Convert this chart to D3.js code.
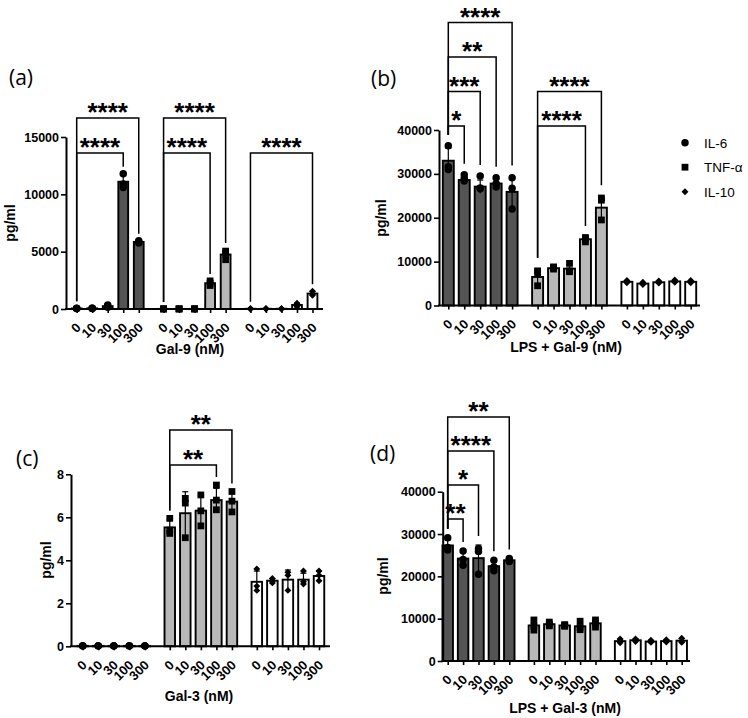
<!DOCTYPE html>
<html><head><meta charset="utf-8">
<script src="https://cdn.jsdelivr.net/npm/d3@7"></script>
<style>body{margin:0;background:#fff} svg{display:block}</style>
</head><body>
<svg id="chart" width="748" height="718"></svg>
<script>
// ---------- DATA ----------
const doses = ["0","10","30","100","300"];
const cytokines = ["IL-6","TNF-α","IL-10"];

// (a) Gal-9
const aTicks = [0,5000,10000,15000];
const aMean = [[50,60,250,11100,5850],[10,10,10,2250,4750],[20,20,20,350,1350]];
const aSD   = [[20,20,80,600,100],[0,0,0,200,400],[0,0,0,150,180]];
const aPts  = [
  [[60,40,50],[70,50,60],[350,250,150],[11800,10900,10600],[5950,5850,5750]],
  [[10,10,10],[10,10,10],[10,10,10],[2450,2250,2050],[5050,4850,4300]],
  [[20,20,20],[20,20,20],[20,20,20],[500,350,200],[1550,1300,1200]]
];
const aSig = [[0,3,"****",0],[0,4,"****",1],[1,3,"****",0],[1,4,"****",1],[2,4,"****",0]];

// (b) LPS + Gal-9
const bTicks = [0,10000,20000,30000,40000];
const bMean = [[33000,28600,27100,27800,25900],[6500,8500,8400,15100,22300],[5400,5000,5300,5500,5400]];
const bSD   = [[2800,700,1500,1100,3500],[1900,250,1000,500,2600],[250,200,200,200,200]];
const bPts  = [
  [[36400,31600,31000],[29800,29000,28400],[29500,26800,26600],[29100,27800,27000],[29100,26700,22000]],
  [[7900,7500,4500],[8800,8600,8300],[9600,7900,7700],[15500,15200,14500],[24500,24000,19500]],
  [[5700,5400,5200],[5300,5000,4800],[5600,5300,5100],[5800,5500,5300],[5700,5400,5200]]
];
const bSig = [[0,1,"*",0],[0,2,"***",1],[0,3,"**",2],[0,4,"****",3],[1,3,"****",0],[1,4,"****",1]];

// (c) Gal-3
const cTicks = [0,2,4,6,8];
const cMean = [[0.02,0.02,0.02,0.02,0.02],[5.53,6.19,6.31,6.8,6.73],[3.0,3.05,3.1,3.1,3.27]];
const cSD   = [[0,0,0,0,0],[0.35,1.0,0.72,0.55,0.45],[0.5,0.1,0.45,0.3,0.22]];
const cPts  = [
  [[0.02,0.02,0.02],[0.02,0.02,0.02],[0.02,0.02,0.02],[0.02,0.02,0.02],[0.02,0.02,0.02]],
  [[5.95,5.4,5.25],[6.88,6.66,5.05],[7.04,6.3,5.6],[7.5,6.8,6.35],[7.2,6.75,6.25]],
  [[3.6,2.8,2.6],[3.15,3.05,2.95],[3.45,3.3,2.6],[3.5,3.0,2.9],[3.5,3.3,3.05]]
];
const cSig = [[1,3,"**",0],[1,4,"**",1]];

// (d) LPS + Gal-3
const dTicks = [0,10000,20000,30000,40000];
const dMean = [[27300,24200,24300,22400,23800],[8400,8700,8400,8200,8900],[4700,4900,4600,4700,4800]];
const dSD   = [[1300,1700,3100,1250,350],[1200,450,200,1050,850],[450,300,250,250,500]];
const dPts  = [
  [[29100,26800,26200],[26000,24000,22600],[26600,25900,20500],[23800,22200,21300],[24200,23800,23500]],
  [[9700,8300,7300],[9200,8700,8300],[8600,8400,8200],[9400,7900,7400],[9700,9000,8000]],
  [[5200,4600,4300],[5200,4900,4600],[4900,4600,4400],[5000,4700,4500],[5400,4700,4400]]
];
const dSig = [[0,1,"**",0],[0,2,"*",1],[0,3,"****",2],[0,4,"**",3]];

// ---------- STYLE / LAYOUT ----------
const fills = ["#545454","#b8b8b8","#ffffff"];
const FONT = "'Liberation Sans', Arial, sans-serif";
const panels = [
  {letter:"(a)", lx:9, ly:85, xTitle:"Gal-9 (nM)", xtx:190, xty:354, ytx:15, yty:223,
   axisX:66, axisEnd:323, firstX:76.7, lastX:312.5, y0:309, yTop:137, yMax:15000,
   ticks:aTicks, mean:aMean, sd:aSD, pts:aPts, sig:aSig, br0:153, brStep:35, legOff:7, barW:9.8},
  {letter:"(b)", lx:371, ly:86, xTitle:"LPS + Gal-9 (nM)", xtx:566, xty:352, ytx:386, yty:218,
   axisX:439, axisEnd:700, firstX:448.3, lastX:690.7, y0:305.5, yTop:130, yMax:40000,
   ticks:bTicks, mean:bMean, sd:bSD, pts:bPts, sig:bSig, br0:126, brStep:34.5, legOff:11, barW:11, legend:true},
  {letter:"(c)", lx:16, ly:466, xTitle:"Gal-3 (nM)", xtx:199, xty:701, ytx:51, yty:560,
   axisX:71, axisEnd:330, firstX:82.7, lastX:319, y0:646.3, yTop:474.3, yMax:8,
   ticks:cTicks, mean:cMean, sd:cSD, pts:cPts, sig:cSig, br0:465, brStep:35, legOff:8, barW:10.5},
  {letter:"(d)", lx:370, ly:461, xTitle:"LPS + Gal-3 (nM)", xtx:565, xty:713, ytx:388, yty:576,
   axisX:442.7, axisEnd:690, firstX:447.7, lastX:681.7, y0:661, yTop:491.7, yMax:40000,
   ticks:dTicks, mean:dMean, sd:dSD, pts:dPts, sig:dSig, br0:519, brStep:34, legOff:9, barW:10.5}
];

const svg = d3.select("#chart");
const symbols = [
  d3.symbol().type(d3.symbolCircle).size(44),
  d3.symbol().type(d3.symbolSquare).size(46),
  d3.symbol().type(d3.symbolSquare).size(24)
];
const symRot = [0,0,45];

function drawPanel(p){
  const g = svg.append("g");
  const y = d3.scaleLinear().domain([0,p.yMax]).range([p.y0,p.yTop]);
  const slot = d3.scaleLinear().domain([0,15.2]).range([p.firstX,p.lastX]);
  const xPos = (gi,di) => slot(gi*5.6+di);

  const recs = [];
  p.mean.forEach((arr,gi)=>arr.forEach((m,di)=>recs.push({gi,di,m,sd:p.sd[gi][di],pts:p.pts[gi][di],x:xPos(gi,di)})));

  // bars
  g.selectAll("rect.bar").data(recs).join("rect")
    .attr("x",d=>d.x-p.barW/2).attr("width",p.barW)
    .attr("y",d=>y(d.m)).attr("height",d=>Math.max(0,y(0)-y(d.m)))
    .attr("fill",d=>fills[d.gi]).attr("stroke","#000").attr("stroke-width",1.9);

  // error bars
  const eb = g.selectAll("g.eb").data(recs.filter(d=>d.sd>0)).join("g");
  eb.append("line").attr("x1",d=>d.x).attr("x2",d=>d.x)
    .attr("y1",d=>y(Math.max(0,d.m-d.sd))).attr("y2",d=>y(d.m+d.sd))
    .attr("stroke","#000").attr("stroke-width",1.2);
  eb.append("line").attr("x1",d=>d.x-3).attr("x2",d=>d.x+3)
    .attr("y1",d=>y(d.m+d.sd)).attr("y2",d=>y(d.m+d.sd))
    .attr("stroke","#000").attr("stroke-width",1.2);

  // points
  const ptsFlat = [];
  recs.forEach(r=>r.pts.forEach(v=>ptsFlat.push({gi:r.gi,x:r.x,v})));
  g.selectAll("path.pt").data(ptsFlat).join("path")
    .attr("d",d=>symbols[d.gi]())
    .attr("transform",d=>`translate(${d.x},${y(d.v)}) rotate(${symRot[d.gi]})`)
    .attr("fill","#000");

  // y axis
  const ya = g.append("g").attr("transform",`translate(${p.axisX},0)`)
    .call(d3.axisLeft(y).tickValues(p.ticks).tickSize(5).tickSizeOuter(0).tickPadding(2).tickFormat(d3.format("d")));
  ya.select(".domain").attr("stroke-width",2);
  ya.selectAll(".tick line").attr("stroke-width",1.6);
  ya.selectAll("text").attr("font-family",FONT).attr("font-weight","bold").attr("font-size",12.5).attr("fill","#000");

  // x axis
  g.append("line").attr("x1",p.axisX-1).attr("x2",p.axisEnd).attr("y1",y(0)).attr("y2",y(0))
    .attr("stroke","#000").attr("stroke-width",2);
  const keys = recs.map(r=>r.gi+"-"+r.di);
  const xo = d3.scaleOrdinal().domain(keys).range(recs.map(r=>r.x));
  const xa = g.append("g").attr("transform",`translate(0,${y(0)})`)
    .call(d3.axisBottom(xo).tickSize(4).tickSizeOuter(0).tickFormat(k=>doses[+k.split("-")[1]]));
  xa.select(".domain").remove();
  xa.selectAll(".tick line").attr("stroke-width",1.6);
  xa.selectAll("text").attr("x",0).attr("y",0).attr("dy",0)
    .attr("text-anchor","end").attr("transform","translate(4.5,19.5) rotate(-45)")
    .attr("font-family",FONT).attr("font-weight","bold").attr("font-size",13).attr("fill","#000");

  // brackets
  const maxAt = (gi,di)=>d3.max(p.pts[gi][di].concat([p.mean[gi][di]+p.sd[gi][di]]));
  p.sig.forEach(([gi,di,lab,lvl])=>{
    const yb = p.br0 - lvl*p.brStep;
    const x0 = xPos(gi,0), x1 = xPos(gi,di);
    const yl = y(maxAt(gi,0)) - p.legOff, yr = y(maxAt(gi,di)) - p.legOff;
    g.append("path").attr("d",`M${x0},${yl}V${yb}H${x1}V${yr}`)
      .attr("fill","none").attr("stroke","#000").attr("stroke-width",1.5);
    g.append("text").attr("x",(x0+x1)/2).attr("y",yb+3).attr("text-anchor","middle")
      .attr("font-family",FONT).attr("font-weight","bold").attr("font-size",26).text(lab);
  });

  // titles
  g.append("text").attr("x",p.xtx).attr("y",p.xty).attr("text-anchor","middle")
    .attr("font-family",FONT).attr("font-weight","bold").attr("font-size",14).text(p.xTitle);
  g.append("text").attr("transform",`translate(${p.ytx},${p.yty}) rotate(-90)`).attr("text-anchor","middle")
    .attr("font-family",FONT).attr("font-weight","bold").attr("font-size",14).text("pg/ml");
  g.append("text").attr("x",p.lx).attr("y",p.ly)
    .attr("font-family","'Open Sans', sans-serif").attr("font-size",21).text(p.letter);

  if(p.legend){
    const lg = g.append("g");
    cytokines.forEach((c,i)=>{
      const yy = 142.7 + i*24.5;
      lg.append("path").attr("d",symbols[i]()).attr("transform",`translate(685,${yy}) rotate(${symRot[i]})`).attr("fill","#000");
      lg.append("text").attr("x",704).attr("y",yy+5).attr("font-family",FONT).attr("font-size",13.5).text(c);
    });
  }
}
panels.forEach(drawPanel);
</script>
</body></html>
